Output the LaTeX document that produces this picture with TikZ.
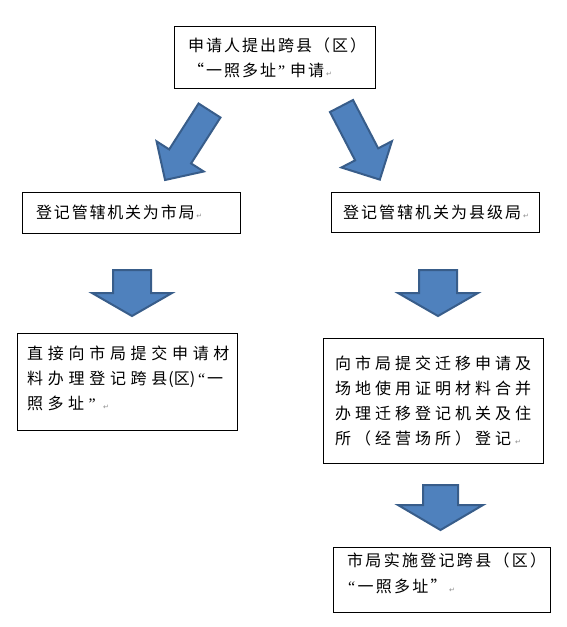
\documentclass[tikz,border=0pt]{standalone}
\usepackage{fontspec}
\newfontfamily\cjk{Noto Sans CJK SC}
\newfontfamily\dv{DejaVu Sans}
\newfontfamily\lser{Liberation Serif}
\makeatletter
\def\sp@end{\sp@end}
\newcommand\spaced[2]{\def\sp@gap{#1}\sp@loop#2\sp@end}
\def\sp@loop#1{\ifx#1\sp@end\else#1\hskip\sp@gap\relax\expandafter\sp@loop\fi}
\makeatother
\newcommand\oqa{\makebox[8pt][r]{\lser “}}
\newcommand\oqb{\makebox[16pt][r]{“}}
\newcommand\cqa{\makebox[10pt][l]{\lser ”}}
\newcommand\cqb{\makebox[16pt][l]{”}}
\newcommand\pmark{{\dv\fontsize{7}{7}\selectfont\textcolor{black!45}{↵}}}
\newcommand\blockarrow[6]{%
  \draw[barrow, shift={#1}, rotate=#2]
    (0,-#5) -- ({#3-#4},-#5) -- ({#3-#4},-#6) -- (#3,0) --
    ({#3-#4},#6) -- ({#3-#4},#5) -- (0,#5) -- cycle;}
\definecolor{afill}{RGB}{79,129,189}
\definecolor{aline}{RGB}{56,93,138}
\begin{document}
\begin{tikzpicture}[x=1pt,y=1pt,
  box/.style={draw=black, line width=0.8pt, inner sep=0pt, anchor=north west},
  txt/.style={inner sep=0pt, anchor=base west, font=\cjk\fontsize{16}{16}\selectfont},
  barrow/.style={fill=afill, draw=aline, line width=2pt, line join=miter}]
\useasboundingbox (0,0) rectangle (567,-627);
\fill[white] (0,0) rectangle (567,-627);

% boxes
\node[box, minimum width=201pt, minimum height=62pt] (b1) at (174,-26) {};
\node[box, minimum width=218pt, minimum height=41pt] (b2l) at (22,-192) {};
\node[box, minimum width=208pt, minimum height=40pt] (b2r) at (331,-192) {};
\node[box, minimum width=220pt, minimum height=97pt] (b3l) at (17,-333) {};
\node[box, minimum width=220pt, minimum height=125pt] (b3r) at (323,-338) {};
\node[box, minimum width=217pt, minimum height=65pt] (b4) at (333,-547) {};

% texts
\node[txt] (t1a) at (188,-51.1) {\spaced{2pt}{申请人提出跨县（区）}};
\node[txt] (t1b) at (188,-76.1) {\spaced{2pt}{\oqb 一照多址\cqa 申请}\pmark};

\node[txt] (t2l) at (36,-218.1) {\spaced{1.8pt}{登记管辖机关为市局}\pmark};
\node[txt] (t2r) at (343,-218.1) {\spaced{2pt}{登记管辖机关为县级局}\pmark};

\node[txt] (t3la) at (27,-359.1) {\spaced{4.7pt}{直接向市局提交申请材}};
\node[txt] (t3lb) at (27,-384.1) {\spaced{4.7pt}{料办理登记跨县}\hspace{-3.7pt}(区)\hspace{2pt}\oqa\hspace{2pt}一};
\node[txt] (t3lc) at (27,-409.1) {\spaced{4.5pt}{照多址\cqa}\pmark};

\node[txt] (t3ra) at (335,-369.1) {\spaced{4pt}{向市局提交迁移申请及}};
\node[txt] (t3rb) at (335,-394.1) {\spaced{4pt}{场地使用证明材料合并}};
\node[txt] (t3rc) at (335,-419.1) {\spaced{4pt}{办理迁移登记机关及住}};
\node[txt] (t3rd) at (335,-444.1) {\spaced{4pt}{所（经营场所）登记}\pmark};

\node[txt] (t4a) at (347,-566.1) {\spaced{2.3pt}{市局实施登记跨县（区）}};
\node[txt] (t4b) at (347,-592.1) {\spaced{2.3pt}{\oqa 一照多址\cqb}\pmark};

% block arrows
\blockarrow{(209.5,-110.5)}{237.4}{82.5}{28}{13}{28}
\blockarrow{(341.5,-106)}{-62.5}{83}{28.5}{13}{28.5}
\blockarrow{(132,-270)}{-90}{46}{23}{19}{40}
\blockarrow{(438,-270)}{-90}{46}{23}{19}{40}
\blockarrow{(440.5,-485)}{-90}{45}{25}{17.5}{42.5}
\end{tikzpicture}
\end{document}
